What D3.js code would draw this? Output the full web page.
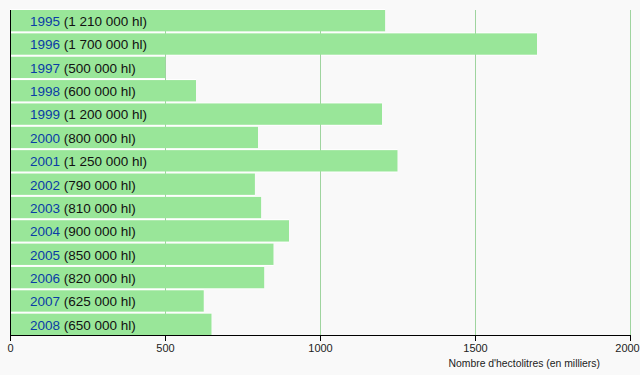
<!DOCTYPE html>
<html>
<head>
<meta charset="utf-8">
<script src="https://cdn.jsdelivr.net/npm/d3@7"></script>
<style>
  html, body { margin: 0; padding: 0; background: #f9f9f9; }
  svg { display: block; font-family: "Liberation Sans", Arial, sans-serif; }
  .tick text { font-size: 11px; fill: #222; }
</style>
</head>
<body>
<svg width="640" height="375"></svg>
<script>
// production en milliers d'hectolitres
const years = ["1995", "1996", "1997", "1998", "1999", "2000", "2001",
  "2002", "2003", "2004", "2005", "2006", "2007", "2008"];
const volumes = [1210, 1700, 500, 600, 1200, 800, 1250, 790, 810, 900, 850, 820, 625, 650];
const xTicks = [0, 500, 1000, 1500, 2000];
const axisTitle = "Nombre d'hectolitres (en milliers)";

const data = years.map((y, i) => ({ year: y, value: volumes[i] }));

const svg = d3.select("svg");
const plot = { left: 10, right: 630, top: 10, bottom: 335 };

const x = d3.scaleLinear().domain([0, 2000]).range([plot.left, plot.right]);
const y = d3.scaleBand().domain(years).range([plot.top, plot.bottom]).paddingInner(0.086).paddingOuter(0);

const fr = d3.formatLocale({ decimal: ",", thousands: "\u00a0", grouping: [3], currency: ["", ""] });
const fmt = fr.format(",d");

// white separators behind the bars
svg.append("g").selectAll("rect")
  .data(data)
  .join("rect")
    .attr("x", x(0))
    .attr("y", d => y(d.year) - 1)
    .attr("width", d => x(d.value) - x(0))
    .attr("height", y.bandwidth() + 2)
    .attr("fill", "#fff");

// vertical grid
svg.append("g").selectAll("line")
  .data(xTicks.filter(d => d > 0))
  .join("line")
    .attr("x1", d => x(d) + 0.5)
    .attr("x2", d => x(d) + 0.5)
    .attr("y1", plot.top)
    .attr("y2", plot.bottom)
    .attr("stroke", "#9fd49f")
    .attr("stroke-width", 1);

svg.append("g").selectAll("rect")
  .data(data)
  .join("rect")
    .attr("x", x(0))
    .attr("y", d => y(d.year))
    .attr("width", d => x(d.value) - x(0))
    .attr("height", y.bandwidth())
    .attr("fill", "#99e699");

const labels = svg.append("g").selectAll("text")
  .data(data)
  .join("text")
    .attr("x", 30)
    .attr("y", d => y(d.year) + y.bandwidth() / 2 + 0.5)
    .attr("dy", "0.36em")
    .style("font-size", "13.5px");

labels.append("tspan")
  .attr("fill", "#0a3ca6")
  .text(d => d.year);
labels.append("tspan")
  .attr("fill", "#111")
  .text(d => ` (${fmt(d.value * 1000)} hl)`);

// axes
svg.append("g")
  .attr("transform", `translate(0,${plot.bottom})`)
  .call(d3.axisBottom(x).tickValues(xTicks).tickFormat(d3.format("d"))
    .tickSize(6).tickSizeOuter(0).tickPadding(3))
  .call(g => g.selectAll(".domain, .tick line").attr("stroke", "#000"))
  // last label hugs the right edge
  .call(g => g.selectAll(".tick text").filter(d => d === 2000).attr("dx", -3));

svg.append("line")
  .attr("x1", plot.left + 0.5).attr("x2", plot.left + 0.5)
  .attr("y1", plot.top).attr("y2", plot.bottom)
  .attr("stroke", "#000");

svg.append("text")
  .attr("x", 600)
  .attr("y", 367)
  .attr("text-anchor", "end")
  .style("font-size", "10.4px")
  .attr("fill", "#222")
  .text(axisTitle);
</script>
</body>
</html>
